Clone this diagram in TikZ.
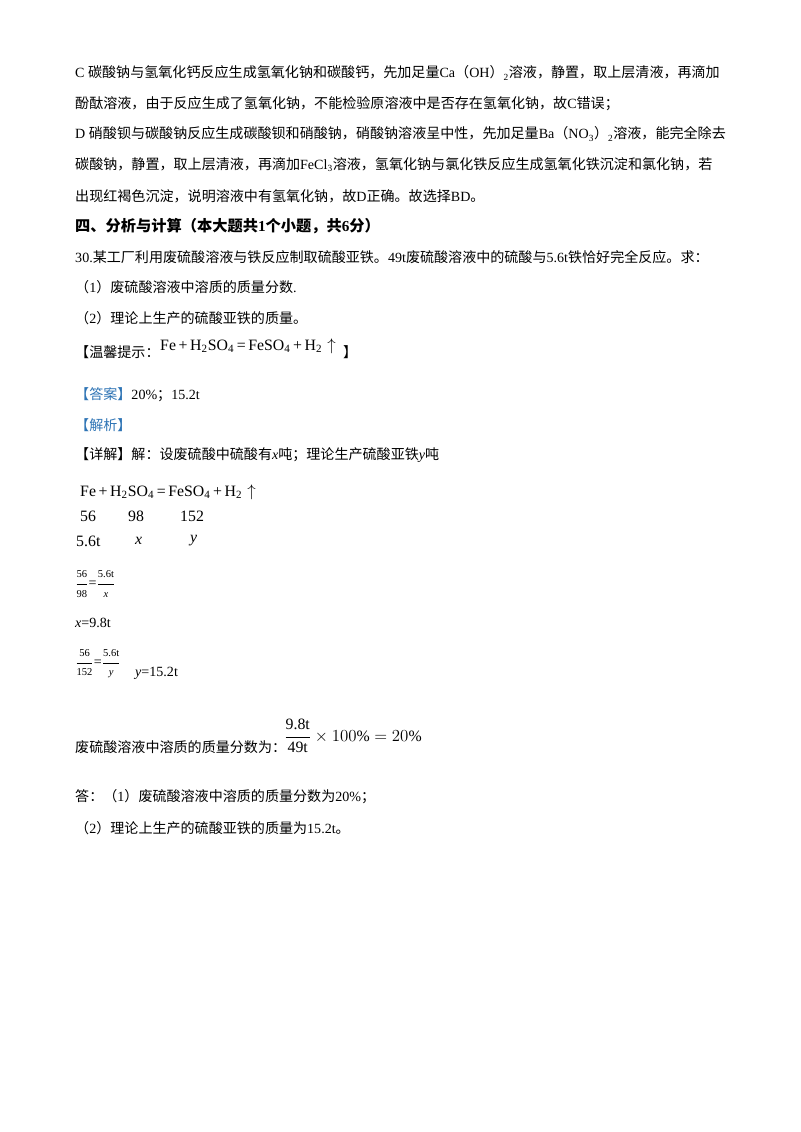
\documentclass[tikz,border=0pt]{standalone}
\usepackage{fontspec}
\setmainfont{Liberation Serif}
\newfontfamily\cjk{Noto Sans CJK SC}
\XeTeXinterchartokenstate=1
\newXeTeXintercharclass\CJKc
\count255="4E00 \loop \XeTeXcharclass\count255=\CJKc \ifnum\count255<"9FFF \advance\count255 1 \repeat
\count255="3000 \loop \XeTeXcharclass\count255=\CJKc \ifnum\count255<"303F \advance\count255 1 \repeat
\count255="FF00 \loop \XeTeXcharclass\count255=\CJKc \ifnum\count255<"FFEF \advance\count255 1 \repeat
\XeTeXinterchartoks 0 \CJKc = {\cjk}
\XeTeXinterchartoks 4095 \CJKc = {\cjk}
\XeTeXinterchartoks \CJKc 0 = {\rmfamily}
\XeTeXinterchartoks \CJKc 4095 = {\rmfamily}
\definecolor{ansblue}{HTML}{2E74B5}
\newcommand{\sfr}[2]{\displaystyle\frac{\mbox{\small #1}}{\mbox{\small #2}}}
\newcommand{\chemeq}{Fe\,+\,H\textsubscript{2}SO\textsubscript{4}\,=\,FeSO\textsubscript{4}\,+\,H\textsubscript{2}\,\,$\uparrow$}
\begin{document}
\begin{tikzpicture}[x=0.03cm,y=-0.03cm,
  t/.style={anchor=west,inner sep=0pt,font=\fontsize{12}{14}\selectfont},
  e/.style={anchor=west,inner sep=0pt,font=\fontsize{13.5}{15}\selectfont}]
\useasboundingbox[fill=white] (0,0) rectangle (800,1132);
\node[t] (l1) at (75,73) {C 碳酸钠与氢氧化钙反应生成氢氧化钠和碳酸钙，先加足量Ca（OH）\textsubscript{2}溶液，静置，取上层清液，再滴加};
\node[t] (l2) at (75,104) {酚酞溶液，由于反应生成了氢氧化钠，不能检验原溶液中是否存在氢氧化钠，故C错误；};
\node[t] (l3) at (75,134) {D 硝酸钡与碳酸钠反应生成碳酸钡和硝酸钠，硝酸钠溶液呈中性，先加足量Ba（NO\textsubscript{3}）\textsubscript{2}溶液，能完全除去};
\node[t] (l4) at (75,165) {碳酸钠，静置，取上层清液，再滴加FeCl\textsubscript{3}溶液，氢氧化钠与氯化铁反应生成氢氧化铁沉淀和氯化钠，若};
\node[t] (l5) at (75,196) {出现红褐色沉淀，说明溶液中有氢氧化钠，故D正确。故选择BD。};
\node[t,font=\fontsize{13}{15}\selectfont\bfseries] (h) at (75,226) {四、分析与计算（本大题共1个小题，共6分）};
\node[t] (q) at (75,257) {30.某工厂利用废硫酸溶液与铁反应制取硫酸亚铁。49t废硫酸溶液中的硫酸与5.6t铁恰好完全反应。求：};
\node[t] (q1) at (75,287) {（1）废硫酸溶液中溶质的质量分数.};
\node[t] (q2) at (75,318) {（2）理论上生产的硫酸亚铁的质量。};
\node[t] (tip) at (75,352) {【温馨提示：};
\node[e] (eq0) at (160,346) {\chemeq};
\node[t] (tipe) at (343,352) {】};
\node[t] (ans) at (75,395) {\textcolor{ansblue}{【答案】}20\%；15.2t};
\node[t,text=ansblue] (jx) at (75,425) {【解析】};
\node[t] (xj) at (75,455) {【详解】解：设废硫酸中硫酸有\textit{x}吨；理论生产硫酸亚铁\textit{y}吨};
\node[e] (eq) at (80,492) {\chemeq};
\node[e] (m1) at (80,516) {56};
\node[e] (m2) at (128,516) {98};
\node[e] (m3) at (180,516) {152};
\node[e] (v1) at (76,541) {5.6t};
\node[e] (v2) at (135,541) {\textit{x}};
\node[e] (v3) at (190,541) {\textit{y}};
\node[t] (f1) at (75,584) {$\sfr{56}{98}\mbox{=}\sfr{5.6t}{\textit{x}}$};
\node[t] (xr) at (75,623) {\textit{x}=9.8t};
\node[t] (f2) at (75,664) {$\sfr{56}{152}\mbox{=}\sfr{5.6t}{\textit{y}}$};
\node[t] (yr) at (135,673) {\textit{y}=15.2t};
\node[t] (pct) at (75,747) {废硫酸溶液中溶质的质量分数为：};
\node[e] (pf) at (284,736) {$\displaystyle\frac{\mbox{9.8t}}{\mbox{49t}}\times 100\%=20\%$};
\node[t] (a1) at (75,797) {答：（1）废硫酸溶液中溶质的质量分数为20\%；};
\node[t] (a2) at (75,828) {（2）理论上生产的硫酸亚铁的质量为15.2t。};
\end{tikzpicture}
\end{document}
